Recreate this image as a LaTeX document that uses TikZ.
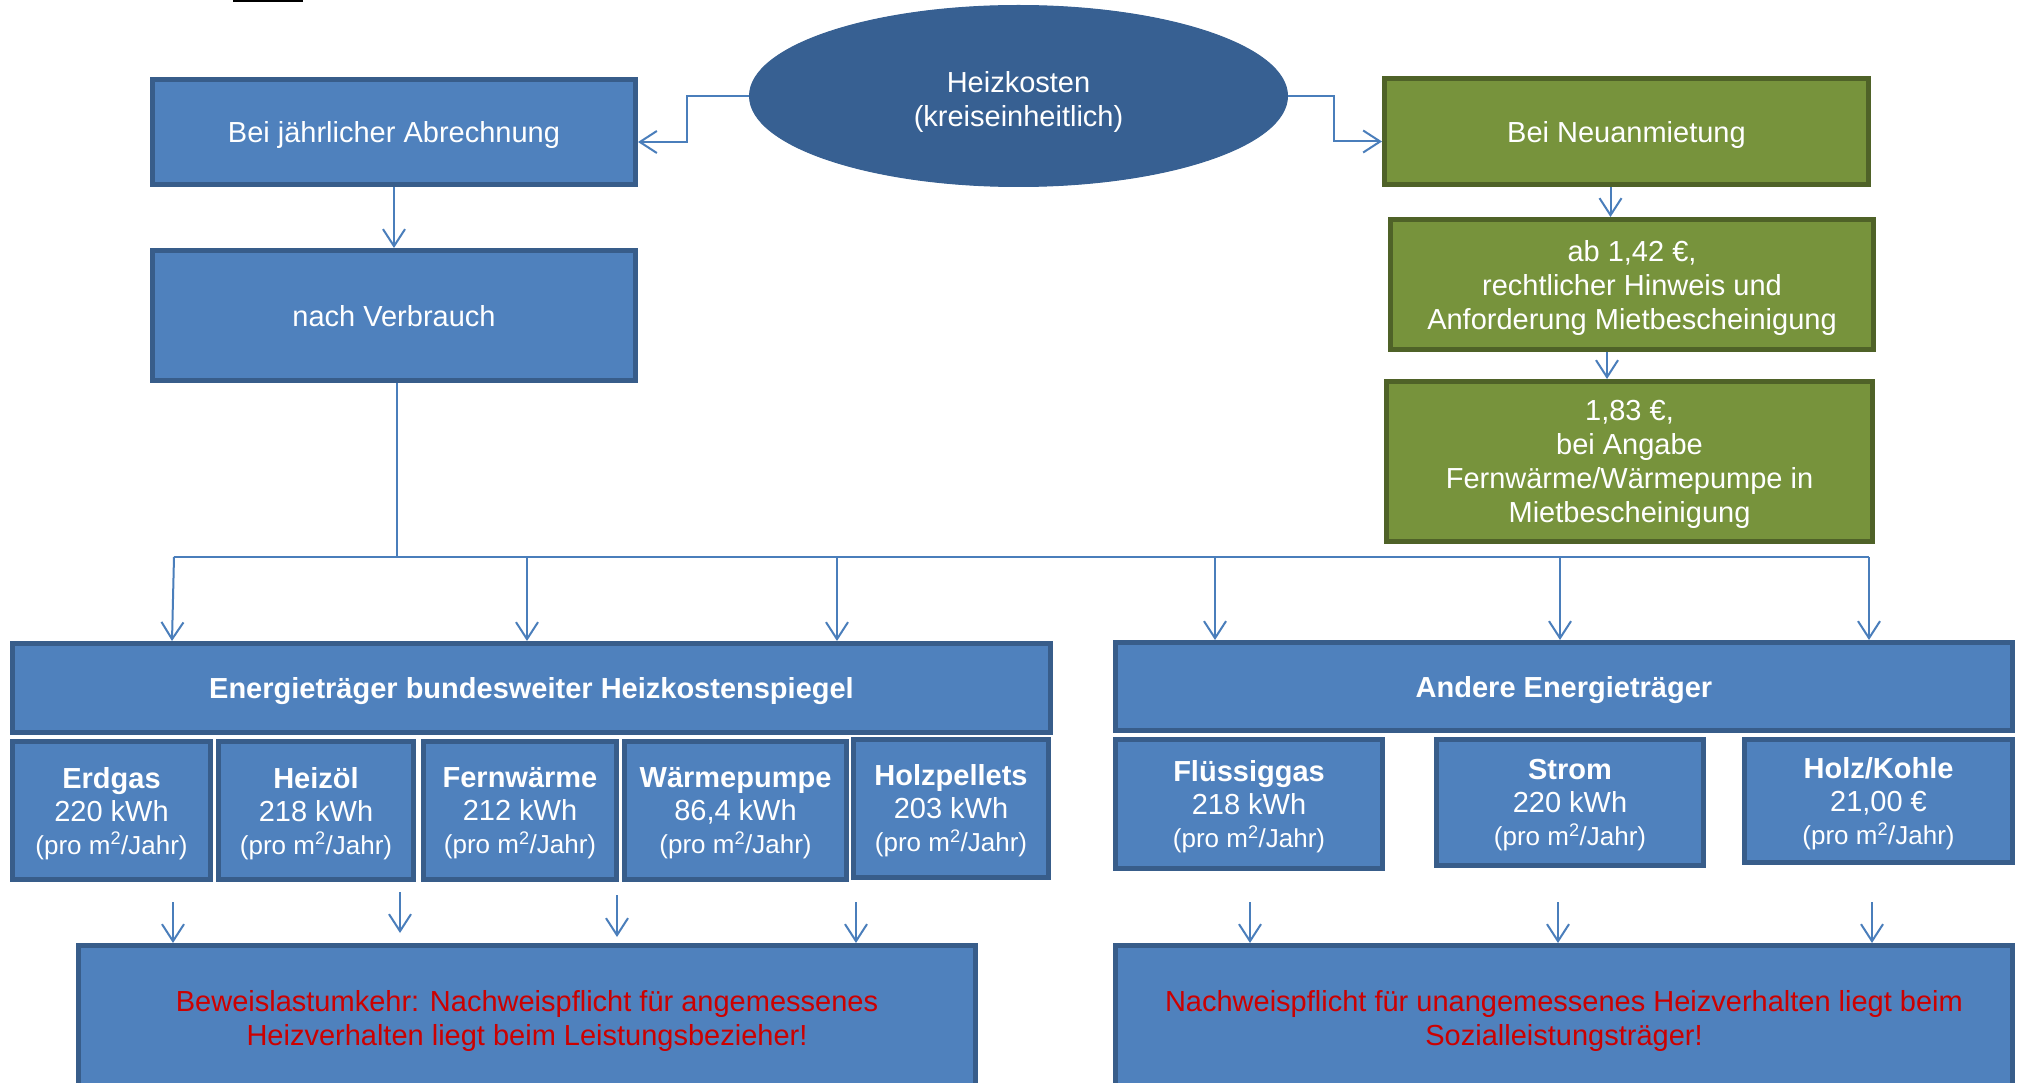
\documentclass[tikz,border=0pt]{standalone}
\usepackage{fontspec}
\setmainfont{Liberation Sans}
\usetikzlibrary{arrows.meta,shapes.geometric}
\definecolor{bfill}{HTML}{4F81BD}
\definecolor{bdraw}{HTML}{385D8A}
\definecolor{efill}{HTML}{376092}
\definecolor{gfill}{HTML}{77933C}
\definecolor{gdraw}{HTML}{4F6228}
\definecolor{conncol}{HTML}{4A7EBB}
\definecolor{redtxt}{HTML}{CC0000}
\newcommand{\mainfs}{\fontsize{29}{34}\selectfont}
\newcommand{\subfs}{\fontsize{29}{33}\selectfont}
\newcommand{\profs}{\fontsize{26}{33}\selectfont}
\tikzset{
  box/.style={draw=bdraw, fill=bfill, line width=5pt, text=white, align=center, inner sep=0pt, text depth=0pt, font=\mainfs},
  gbox/.style={draw=gdraw, fill=gfill, line width=5pt, text=white, align=center, inner sep=0pt, text depth=0pt, font=\mainfs},
  subbox/.style={box, font=\subfs},
  conn/.style={draw=conncol, line width=2pt, -{Straight Barb[length=17pt,width=22pt]}},
  plain/.style={draw=conncol, line width=2pt},
}
\begin{document}
\begin{tikzpicture}[x=1pt,y=-1pt]
\useasboundingbox (0,0) rectangle (2022,1083);
\clip (0,0) rectangle (2022,1083);
\fill[white] (0,0) rectangle (2022,1083);
\draw[black, line width=2pt] (233,1) -- (303,1);

% top row
\node[ellipse, fill=efill, draw=efill, line width=1pt, text=white, align=center, inner sep=0pt, text depth=0pt,
      minimum width=538pt, minimum height=181pt, font=\mainfs] (E) at (1018.5,96) {\rule{0pt}{27pt}Heizkosten\\(kreiseinheitlich)};
\node[box, minimum width=483pt, minimum height=105pt] (A) at (394,132) {Bei jährlicher Abrechnung};
\node[box, minimum width=483pt, minimum height=130pt] (B) at (394,315.5) {nach Verbrauch};
\node[gbox, minimum width=484pt, minimum height=106pt] (G1) at (1626.5,131.5) {Bei Neuanmietung};
\node[gbox, minimum width=483pt, minimum height=130pt] (G2) at (1632,284.5) {ab 1,42 €,\\rechtlicher Hinweis und\\Anforderung Mietbescheinigung};
\node[gbox, minimum width=486pt, minimum height=160pt] (G3) at (1629.5,461.5) {1,83 €,\\bei Angabe\\Fernwärme/Wärmepumpe in\\Mietbescheinigung};

% left panel
\node[box, font=\mainfs\bfseries, minimum width=1038pt, minimum height=89pt] (LH) at (531.5,688) {Energieträger bundesweiter Heizkostenspiegel};
\node[subbox, minimum width=198pt, minimum height=138pt] (S1) at (111.5,810.5) {\textbf{Erdgas}\\220 kWh\\{\profs(pro m\textsuperscript{2}/Jahr)}};
\node[subbox, minimum width=195pt, minimum height=138pt] (S2) at (316,810.5) {\textbf{Heizöl}\\218 kWh\\{\profs(pro m\textsuperscript{2}/Jahr)}};
\node[subbox, minimum width=193pt, minimum height=138pt] (S3) at (520,810.5) {\textbf{Fernwärme}\\212 kWh\\{\profs(pro m\textsuperscript{2}/Jahr)}};
\node[subbox, minimum width=222pt, minimum height=138pt] (S4) at (735.5,810.5) {\textbf{Wärmepumpe}\\86,4 kWh\\{\profs(pro m\textsuperscript{2}/Jahr)}};
\node[subbox, minimum width=195pt, minimum height=138pt] (S5) at (951,808) {\textbf{Holzpellets}\\203 kWh\\{\profs(pro m\textsuperscript{2}/Jahr)}};

% right panel
\node[box, font=\mainfs\bfseries, minimum width=897pt, minimum height=88pt] (RH) at (1564,686.5) {Andere Energieträger};
\node[subbox, minimum width=267pt, minimum height=129pt] (R1) at (1249,804) {\textbf{Flüssiggas}\\218 kWh\\{\profs(pro m\textsuperscript{2}/Jahr)}};
\node[subbox, minimum width=267pt, minimum height=126pt] (R2) at (1570,802.5) {\textbf{Strom}\\220 kWh\\{\profs(pro m\textsuperscript{2}/Jahr)}};
\node[subbox, minimum width=268pt, minimum height=123pt] (R3) at (1878.5,801) {\textbf{Holz/Kohle}\\21,00 €\\{\profs(pro m\textsuperscript{2}/Jahr)}};

% bottom boxes
\node[box, text=redtxt, minimum width=897pt, minimum height=144pt] (BL) at (527,1017.5) {Beweislastumkehr: Nachweispflicht für angemessenes\\Heizverhalten liegt beim Leistungsbezieher!};
\node[box, text=redtxt, minimum width=897pt, minimum height=144pt] (BR) at (1564,1017.5) {Nachweispflicht für unangemessenes Heizverhalten liegt beim\\Sozialleistungsträger!};

% connectors top
\draw[conn] (E.west) -- ++(-62,0) |- ([yshift=-10pt]A.east);
\draw[conn] (E.east) -- ++(46,0) |- ([yshift=-10pt]G1.west);
\draw[conn] (A.south) -- (B.north);
\draw[conn] ([xshift=-16pt]G1.south) -- ([xshift=-16pt]G1.south |- G2.north);
\draw[conn] ([xshift=-25pt]G2.south) -- ([xshift=-25pt]G2.south |- G3.north);

% distribution bar
\coordinate (t1) at (174,557);
\coordinate (t2) at (527,557);
\coordinate (t3) at (837,557);
\coordinate (t4) at (1215,557);
\coordinate (t5) at (1560,557);
\coordinate (t6) at (1869,557);
\draw[plain] ([xshift=3pt]B.south) -- ([xshift=3pt]B.south |- t1);
\draw[plain] (t1) -- (t6);
\draw[conn] (t1) -- ([xshift=-2pt]t1 |- LH.north);
\draw[conn] (t2) -- (t2 |- LH.north);
\draw[conn] (t3) -- (t3 |- LH.north);
\draw[conn] (t4) -- (t4 |- RH.north);
\draw[conn] (t5) -- (t5 |- RH.north);
\draw[conn] (t6) -- (t6 |- RH.north);

% bottom arrows
\coordinate (u1) at (173,902);
\coordinate (u2) at (400,892);
\coordinate (u3) at (617,895);
\coordinate (u4) at (856,902);
\coordinate (e2) at (400,933);
\coordinate (e3) at (617,937);
\coordinate (w1) at (1250,902);
\coordinate (w2) at (1558,902);
\coordinate (w3) at (1872,902);
\draw[conn] (u1) -- (u1 |- BL.north);
\draw[conn] (u2) -- (e2);
\draw[conn] (u3) -- (e3);
\draw[conn] (u4) -- (u4 |- BL.north);
\draw[conn] (w1) -- (w1 |- BR.north);
\draw[conn] (w2) -- (w2 |- BR.north);
\draw[conn] (w3) -- (w3 |- BR.north);
\end{tikzpicture}
\end{document}
